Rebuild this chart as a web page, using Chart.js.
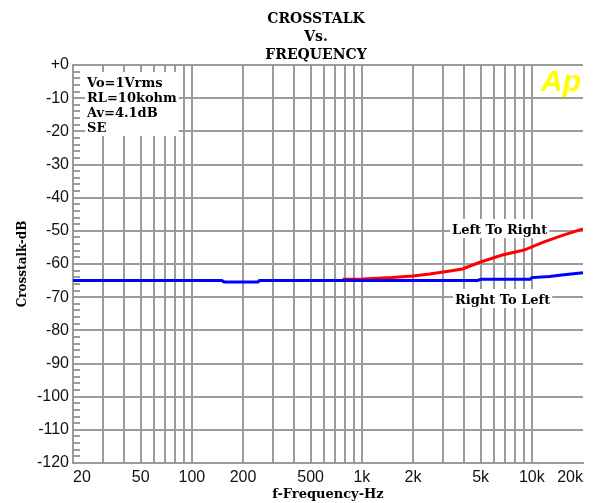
<!DOCTYPE html>
<html>
<head>
<meta charset="utf-8">
<style>
  html, body { margin: 0; padding: 0; background: #ffffff; }
  #wrap { width: 593px; height: 503px; }
</style>
</head>
<body>
<div id="wrap"><canvas id="c" width="593" height="503"></canvas></div>
<script src="https://cdn.jsdelivr.net/npm/chart.js@4/dist/chart.umd.min.js"></script>
<script>
// Crosstalk measurements, frequency in Hz and level in dB
const rtlFreqHz = [20, 50, 100, 150, 155, 245, 250, 500, 1000, 2000, 4800, 5000, 9800, 10000, 12700, 15000, 20000];
const rtlDb     = [-65.0, -65.0, -65.0, -65.0, -65.4, -65.4, -65.0, -65.0, -65.0, -65.0, -65.0, -64.6, -64.6, -64.1, -63.8, -63.3, -62.6];

const ltrFreqHz = [770, 1000, 1500, 2000, 2500, 3300, 3900, 5000, 6700, 9000, 11700, 15300, 20000];
const ltrDb     = [-64.6, -64.5, -64.1, -63.6, -63.0, -62.1, -61.5, -59.4, -57.3, -55.8, -53.4, -51.3, -49.4];

// Labelled frequency ticks
const xLabelValues = [20, 50, 100, 200, 500, 1000, 2000, 5000, 10000, 20000];
const xLabelTexts  = ['20', '50', '100', '200', '500', '1k', '2k', '5k', '10k', '20k'];

// Text blocks
const titleLines = ['CROSSTALK', 'Vs.', 'FREQUENCY'];
const conditionLines = ['Vo=1Vrms', 'RL=10kohm', 'Av=4.1dB', 'SE'];
const seriesNames = ['Right To Left', 'Left To Right'];
const xTitle = 'f-Frequency-Hz';
const yTitle = 'Crosstalk-dB';
const logoText = 'Ap';

const GRID = '#9c9c9c';
const SERIF = '"DejaVu Serif", "Liberation Serif", serif';
const SANS = '"Liberation Sans", Arial, sans-serif';

function toPoints(xs, ys) { return xs.map((f, i) => ({ x: f, y: ys[i] })); }

function boxedText(ctx, lines, left, firstBaseline, lineH, font, pad) {
  ctx.font = font;
  let w = 0;
  lines.forEach(t => { w = Math.max(w, ctx.measureText(t).width); });
  const top = firstBaseline - lineH + 2 - pad;
  const h = lineH * lines.length + pad * 2;
  ctx.fillStyle = '#ffffff';
  ctx.fillRect(left - pad, top, w + pad * 2, h);
  ctx.fillStyle = '#000000';
  ctx.textAlign = 'left';
  ctx.textBaseline = 'alphabetic';
  lines.forEach((t, i) => ctx.fillText(t, left, firstBaseline + i * lineH));
}

const decorations = {
  id: 'decorations',
  beforeDatasetsDraw(chart) {
    const ctx = chart.ctx, ys = chart.scales.y, a = chart.chartArea;
    ctx.save();
    ctx.strokeStyle = GRID;
    ctx.lineWidth = 2;
    for (let v = ys.min; v <= ys.max; v += 2) {
      if (v % 10 === 0) continue;
      const py = Math.round(ys.getPixelForValue(v));
      ctx.beginPath();
      ctx.moveTo(a.left, py);
      ctx.lineTo(a.left + 7, py);
      ctx.stroke();
    }
    ctx.restore();
  },
  afterDraw(chart) {
    const ctx = chart.ctx, a = chart.chartArea;
    ctx.save();

    // Title
    ctx.fillStyle = '#000000';
    ctx.font = 'bold 14px ' + SERIF;
    ctx.textAlign = 'center';
    ctx.textBaseline = 'alphabetic';
    titleLines.forEach((t, i) => ctx.fillText(t, 316, 23 + i * 18));

    // Axis titles
    ctx.font = 'bold 13px ' + SERIF;
    ctx.fillText(xTitle, (a.left + a.right) / 2, 498);
    ctx.save();
    ctx.translate(26, (a.top + a.bottom) / 2);
    ctx.rotate(-Math.PI / 2);
    ctx.font = 'bold 12px ' + SERIF;
    ctx.fillText(yTitle, 0, 0);
    ctx.restore();

    // Measurement conditions
    boxedText(ctx, conditionLines, 87, 87, 15, 'bold 13px ' + SERIF, 2);

    // Series labels
    boxedText(ctx, [seriesNames[1]], 452, 234, 15, 'bold 13px ' + SERIF, 2);
    boxedText(ctx, [seriesNames[0]], 455, 304, 15, 'bold 13px ' + SERIF, 2);

    // Logo
    ctx.font = 'italic bold 30px ' + SANS;
    ctx.fillStyle = '#ffff00';
    ctx.textAlign = 'left';
    ctx.fillText(logoText, 541, 91);

    ctx.restore();
  }
};

new Chart(document.getElementById('c'), {
  type: 'scatter',
  data: {
    datasets: [
      {
        label: seriesNames[0],
        data: toPoints(rtlFreqHz, rtlDb),
        showLine: true,
        borderColor: '#0000ff',
        backgroundColor: '#0000ff',
        borderWidth: 3,
        pointRadius: 0,
        tension: 0,
        order: 0
      },
      {
        label: seriesNames[1],
        data: toPoints(ltrFreqHz, ltrDb),
        showLine: true,
        borderColor: '#ff0000',
        backgroundColor: '#ff0000',
        borderWidth: 3,
        pointRadius: 0,
        tension: 0,
        order: 1
      }
    ]
  },
  options: {
    responsive: false,
    animation: false,
    events: [],
    layout: { padding: { left: 0, right: 10, top: 65, bottom: 0 } },
    plugins: {
      legend: { display: false },
      title: { display: false },
      tooltip: { enabled: false }
    },
    scales: {
      x: {
        type: 'logarithmic',
        min: 20,
        max: 20000,
        afterFit(scale) { scale.height = 40; },
        afterBuildTicks(scale) {
          const t = [];
          for (let d = 10; d <= 10000; d *= 10) {
            for (let m = 1; m <= 9; m++) {
              const v = d * m;
              if (v >= 20 && v <= 20000) t.push({ value: v });
            }
          }
          t.push({ value: 20000 });
          scale.ticks = t.filter((o, i, arr) => arr.findIndex(p => p.value === o.value) === i);
        },
        grid: {
          color: c => (c.tick && c.tick.value >= 20000 ? 'rgba(0,0,0,0)' : GRID),
          lineWidth: 2,
          drawTicks: false
        },
        border: { display: true, color: GRID, width: 2 },
        ticks: {
          autoSkip: false,
          maxRotation: 0,
          minRotation: 0,
          align: 'inner',
          padding: 5,
          color: '#111111',
          font: { family: SANS, size: 16 },
          callback(value) {
            const i = xLabelValues.indexOf(value);
            return i >= 0 ? xLabelTexts[i] : '';
          }
        }
      },
      y: {
        type: 'linear',
        min: -120,
        max: 0,
        afterFit(scale) { scale.width = 73; },
        grid: {
          color: c => (c.tick && c.tick.value % 10 === 0 ? GRID : 'rgba(0,0,0,0)'),
          lineWidth: 2,
          drawTicks: false
        },
        border: { display: true, color: GRID, width: 2 },
        ticks: {
          stepSize: 2,
          autoSkip: false,
          padding: 4,
          color: '#111111',
          font: { family: SANS, size: 16 },
          callback(value) {
            if (value % 10 !== 0) return '';
            return value === 0 ? '+0' : String(value);
          }
        }
      }
    }
  },
  plugins: [decorations]
});
</script>
</body>
</html>
